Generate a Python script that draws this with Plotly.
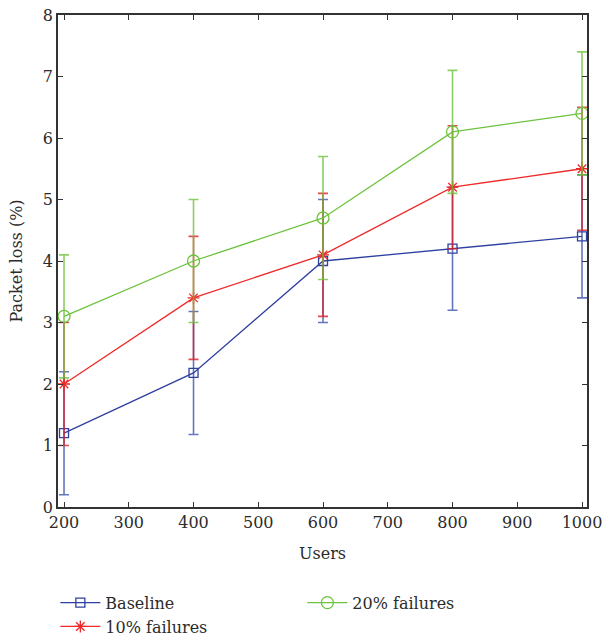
import plotly.graph_objects as go

users = [200, 400, 600, 800, 1000]
baseline = [1.2, 2.18, 4.0, 4.2, 4.4]
baseline_err = [1.0, 1.0, 1.0, 1.0, 1.0]
fail10 = [2.0, 3.4, 4.1, 5.2, 5.5]
fail10_err = [1.0, 1.0, 1.0, 1.0, 1.0]
fail20 = [3.1, 4.0, 4.7, 6.1, 6.4]
fail20_err = [1.0, 1.0, 1.0, 1.0, 1.0]

x_ticks = [200, 300, 400, 500, 600, 700, 800, 900, 1000]
y_ticks = [0, 1, 2, 3, 4, 5, 6, 7, 8]

FONT = "DejaVu Serif"
TXT = "#2b2b2b"

series = [
    ("Baseline", baseline, baseline_err, "#2e40a0", "rgba(70,95,180,0.85)", "square-open", 9, 1),
    ("10% failures", fail10, fail10_err, "#ee2a2a", "rgba(220,30,40,0.8)", "asterisk-open", 10, 3),
    ("20% failures", fail20, fail20_err, "#6cc33c", "rgba(110,195,60,0.8)", "circle-open", 12, 2),
]

fig = go.Figure()
for name, y, e, col, ecol, sym, sz, rank in series:
    fig.add_trace(go.Scatter(
        x=users, y=y, name=name, mode="lines+markers",
        line=dict(color=col, width=1.3),
        marker=dict(symbol=sym, size=sz, color=col, line=dict(color=col, width=1.3)),
        error_y=dict(type="data", array=e, visible=True, color=ecol, thickness=1.6, width=5),
        legendrank=rank,
    ))

axis_common = dict(
    showgrid=False, zeroline=False, showline=True, linecolor="#333333", linewidth=1.5,
    mirror="ticks", ticks="inside", ticklen=5, tickwidth=1.2, tickcolor="#333333",
    tickfont=dict(family=FONT, size=16, color=TXT),
)

fig.update_layout(
    width=603, height=641,
    margin=dict(l=58, r=16, t=15, b=134, autoexpand=False),
    plot_bgcolor="white", paper_bgcolor="white",
    font=dict(family=FONT, size=16, color=TXT),
    xaxis=dict(range=[190.7, 1007.7], tickvals=x_ticks,
               title=dict(text="Users", font=dict(family=FONT, size=16, color=TXT), standoff=17),
               **axis_common),
    yaxis=dict(range=[0, 8], tickvals=y_ticks,
               title=dict(text="Packet loss (%)", font=dict(family=FONT, size=16, color=TXT), standoff=16),
               **axis_common),
    legend=dict(orientation="h", x=-0.005, xanchor="left", y=-0.16, yanchor="top",
                entrywidth=192, entrywidthmode="pixels",
                font=dict(family=FONT, size=16, color=TXT),
                itemwidth=40, tracegroupgap=0),
    showlegend=True,
)

fig.write_html("out.html")
